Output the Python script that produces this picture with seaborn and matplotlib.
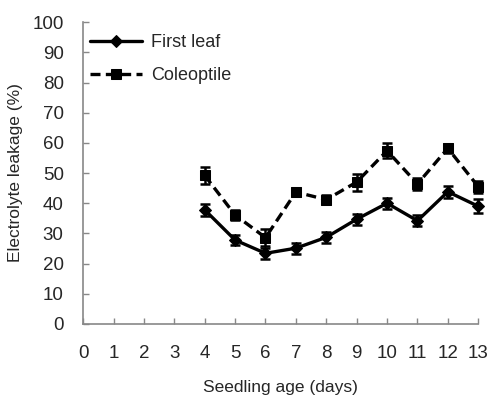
import numpy as np
import pandas as pd
import matplotlib
matplotlib.use("Agg")
import matplotlib.pyplot as plt
import seaborn as sns

# Data
days = [4, 5, 6, 7, 8, 9, 10, 11, 12, 13]
first_leaf = [37.8, 27.8, 23.4, 25.1, 28.7, 34.7, 40.0, 34.2, 43.8, 39.0]
first_leaf_err = [2.0, 1.8, 1.8, 1.8, 1.8, 1.8, 1.8, 1.8, 2.0, 2.3]
coleoptile = [49.2, 36.1, 28.6, 43.7, 41.2, 47.0, 57.4, 46.4, 58.2, 45.5]
coleoptile_err = [2.8, 1.8, 2.8, 1.3, 1.5, 2.8, 2.5, 2.0, 1.5, 2.0]
series_names = ["First leaf", "Coleoptile"]

df = pd.concat([
    pd.DataFrame({"day": days, "value": first_leaf, "err": first_leaf_err, "series": series_names[0]}),
    pd.DataFrame({"day": days, "value": coleoptile, "err": coleoptile_err, "series": series_names[1]}),
])

sns.set_theme(style="white")
plt.rcParams["font.family"] = ["Liberation Sans", "DejaVu Sans"]

fig = plt.figure(figsize=(4.92, 3.96), dpi=100)
ax = fig.add_axes([0.169, 0.182, 0.803, 0.762])

# error bars first, underneath the lines
for name in series_names:
    sub = df[df["series"] == name]
    ax.errorbar(sub["day"], sub["value"], yerr=sub["err"], fmt="none",
                ecolor="black", elinewidth=1.8, capsize=3.5, capthick=1.8,
                clip_on=False, zorder=2)

sns.lineplot(data=df, x="day", y="value", style="series", ax=ax,
             color="black", linewidth=2.4,
             markers={"First leaf": "D", "Coleoptile": "s"},
             dashes={"First leaf": "", "Coleoptile": (3.0, 1.6)},
             markersize=6.5, markeredgecolor="black", clip_on=False, zorder=3)

ax.set_xlim(0, 13)
ax.set_ylim(0, 100)
ax.set_xticks(range(0, 14))
ax.set_yticks(range(0, 101, 10))
ax.tick_params(axis="both", direction="in", length=4, width=1, color="#888888",
               labelsize=13.5, left=True, bottom=True)
ax.tick_params(axis="x", pad=15)
ax.tick_params(axis="y", pad=14)

for side in ["top", "right"]:
    ax.spines[side].set_visible(False)
for side in ["left", "bottom"]:
    ax.spines[side].set_color("#888888")
    ax.spines[side].set_linewidth(1.2)

ax.set_xlabel("Seedling age (days)", fontsize=12.5, labelpad=13)
ax.set_ylabel("Electrolyte leakage (%)", fontsize=12.5, labelpad=7)

leg = ax.legend(loc="upper left", bbox_to_anchor=(-0.025, 1.015), frameon=False,
                fontsize=13, handlelength=2.9, handletextpad=0.5, labelspacing=0.9,
                title=None)

fig.savefig("out.png", dpi=100)
